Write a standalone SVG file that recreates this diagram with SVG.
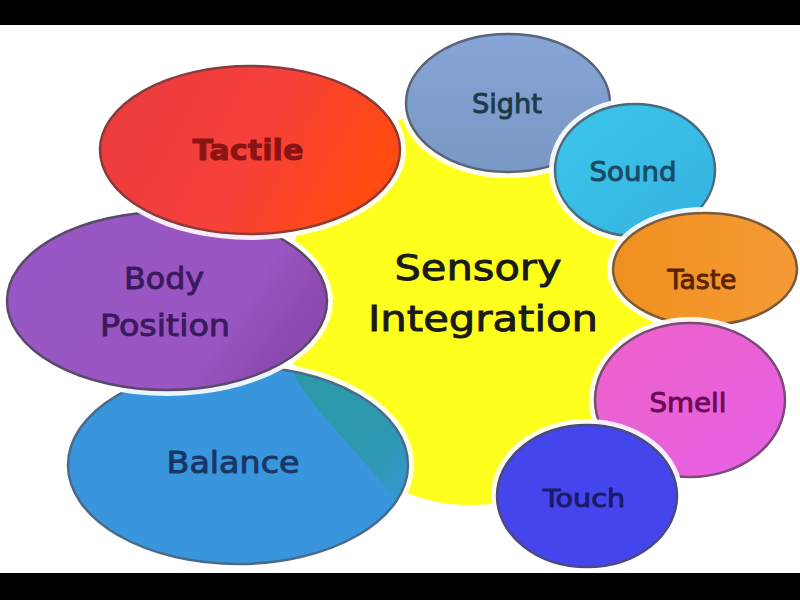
<svg xmlns="http://www.w3.org/2000/svg" width="800" height="600" viewBox="0 0 800 600">
<style>
  .glow { fill: #ffffff; stroke: #ffffff; stroke-width: 8; opacity: 0.9; }
  .shape { stroke-width: 2.5; }
  .lbl { font-family: "DejaVu Sans", "Liberation Sans", sans-serif; text-anchor: middle; stroke-width: 0.9; }
</style>
<defs>
  <linearGradient id="gTactile" x1="0" y1="0" x2="1" y2="0.3">
    <stop offset="0" stop-color="#ea3b3f"/>
    <stop offset="0.6" stop-color="#f6403a"/>
    <stop offset="1" stop-color="#ff4a12"/>
  </linearGradient>
  <linearGradient id="gBody" x1="0" y1="0" x2="1" y2="0.4">
    <stop offset="0" stop-color="#9757c4"/>
    <stop offset="0.8" stop-color="#9a56c2"/>
    <stop offset="1" stop-color="#8c4ab0"/>
  </linearGradient>
  <linearGradient id="gTeal" x1="0" y1="0" x2="1" y2="1">
    <stop offset="0" stop-color="#2a9aa4"/>
    <stop offset="0.7" stop-color="#2e98b4"/>
    <stop offset="1" stop-color="#3996dc"/>
  </linearGradient>
  <linearGradient id="gSight" x1="0" y1="0" x2="0" y2="1">
    <stop offset="0" stop-color="#86a4d6"/>
    <stop offset="1" stop-color="#7a98c4"/>
  </linearGradient>
  <linearGradient id="gSound" x1="0" y1="0" x2="1" y2="1">
    <stop offset="0" stop-color="#3cc6ea"/>
    <stop offset="1" stop-color="#35b2e0"/>
  </linearGradient>
  <linearGradient id="gTaste" x1="0" y1="0" x2="1" y2="0">
    <stop offset="0" stop-color="#f0901e"/>
    <stop offset="1" stop-color="#f59a36"/>
  </linearGradient>
  <linearGradient id="gSmell" x1="0" y1="0" x2="1" y2="1">
    <stop offset="0" stop-color="#ee62c8"/>
    <stop offset="1" stop-color="#e660e6"/>
  </linearGradient>
  <clipPath id="clipBalance">
    <ellipse cx="238" cy="465" rx="169" ry="98"/>
  </clipPath>
</defs>

<rect x="0" y="0" width="800" height="600" fill="#ffffff"/>

<g id="center">
  <ellipse cx="470" cy="305" rx="185" ry="200" fill="#ffff1e"/>
</g>

<g id="balance">
  <ellipse class="glow" cx="238" cy="465" rx="172" ry="101"/>
  <ellipse cx="238" cy="465" rx="170" ry="99" fill="#3996dc"/>
  <path d="M288,360 C300,400 350,440 395,500 L420,500 L420,360 Z" fill="url(#gTeal)" clip-path="url(#clipBalance)"/>
  <ellipse class="shape" cx="238" cy="465" rx="170" ry="99" fill="none" stroke="#4a6a8a"/>
  <text class="lbl" x="233" y="473" font-size="30" fill="#1a3666" stroke="#1a3666" textLength="133" lengthAdjust="spacingAndGlyphs">Balance</text>
</g>

<g id="body-position">
  <ellipse class="glow" cx="167" cy="301" rx="162" ry="91"/>
  <ellipse class="shape" cx="167" cy="301" rx="160" ry="89" fill="url(#gBody)" stroke="#5a4a6a"/>
  <text class="lbl" x="164" y="289" font-size="30" fill="#3a1a5e" stroke="#3a1a5e" textLength="80" lengthAdjust="spacingAndGlyphs">Body</text>
  <text class="lbl" x="165" y="336" font-size="30" fill="#3a1a5e" stroke="#3a1a5e" textLength="130" lengthAdjust="spacingAndGlyphs">Position</text>
</g>

<g id="tactile">
  <ellipse class="glow" cx="250" cy="150" rx="152" ry="86"/>
  <ellipse class="shape" cx="250" cy="150" rx="150" ry="84" fill="url(#gTactile)" stroke="#8a3a3a"/>
  <text class="lbl" x="248" y="160" font-size="29" font-weight="bold" fill="#8a1414" stroke="#8a1414" stroke-width="0.4" textLength="111" lengthAdjust="spacingAndGlyphs">Tactile</text>
</g>

<g id="sight">
  <ellipse class="glow" cx="508" cy="103" rx="104" ry="71"/>
  <ellipse class="shape" cx="508" cy="103" rx="102" ry="69" fill="url(#gSight)" stroke="#5a6478"/>
  <text class="lbl" x="507" y="113" font-size="26" fill="#1e3a48" stroke="#1e3a48" textLength="70" lengthAdjust="spacingAndGlyphs">Sight</text>
</g>

<g id="sound">
  <ellipse class="glow" cx="635" cy="170" rx="82" ry="68"/>
  <ellipse class="shape" cx="635" cy="170" rx="80" ry="66" fill="url(#gSound)" stroke="#4a6a80"/>
  <text class="lbl" x="633" y="181" font-size="26" fill="#1a4a66" stroke="#1a4a66" textLength="87" lengthAdjust="spacingAndGlyphs">Sound</text>
</g>

<g id="taste">
  <ellipse class="glow" cx="705" cy="269" rx="94" ry="58"/>
  <ellipse class="shape" cx="705" cy="269" rx="92" ry="56" fill="url(#gTaste)" stroke="#7a5a3a"/>
  <text class="lbl" x="702" y="289" font-size="26" fill="#5a2404" stroke="#5a2404" textLength="69" lengthAdjust="spacingAndGlyphs">Taste</text>
</g>

<g id="smell">
  <ellipse class="glow" cx="690" cy="400" rx="97" ry="79"/>
  <ellipse class="shape" cx="690" cy="400" rx="95" ry="77" fill="url(#gSmell)" stroke="#7a4a78"/>
  <text class="lbl" x="688" y="412" font-size="26" fill="#6a0a54" stroke="#6a0a54" textLength="77" lengthAdjust="spacingAndGlyphs">Smell</text>
</g>

<g id="touch">
  <ellipse class="glow" cx="587" cy="496" rx="92" ry="73"/>
  <ellipse class="shape" cx="587" cy="496" rx="90" ry="71" fill="#4545ee" stroke="#4a4a80"/>
  <text class="lbl" x="584" y="507" font-size="24" fill="#1a1a66" stroke="#1a1a66" textLength="82" lengthAdjust="spacingAndGlyphs">Touch</text>
</g>

<g id="title">
  <text class="lbl" x="478" y="280" font-size="36" fill="#1a1a1a" stroke="#1a1a1a" textLength="167" lengthAdjust="spacingAndGlyphs">Sensory</text>
  <text class="lbl" x="483" y="331" font-size="36" fill="#1a1a1a" stroke="#1a1a1a" textLength="230" lengthAdjust="spacingAndGlyphs">Integration</text>
</g>

<g id="connectors"/>

<rect x="0" y="0" width="800" height="25" fill="#000000"/>
<rect x="0" y="573" width="800" height="27" fill="#000000"/>
</svg>
